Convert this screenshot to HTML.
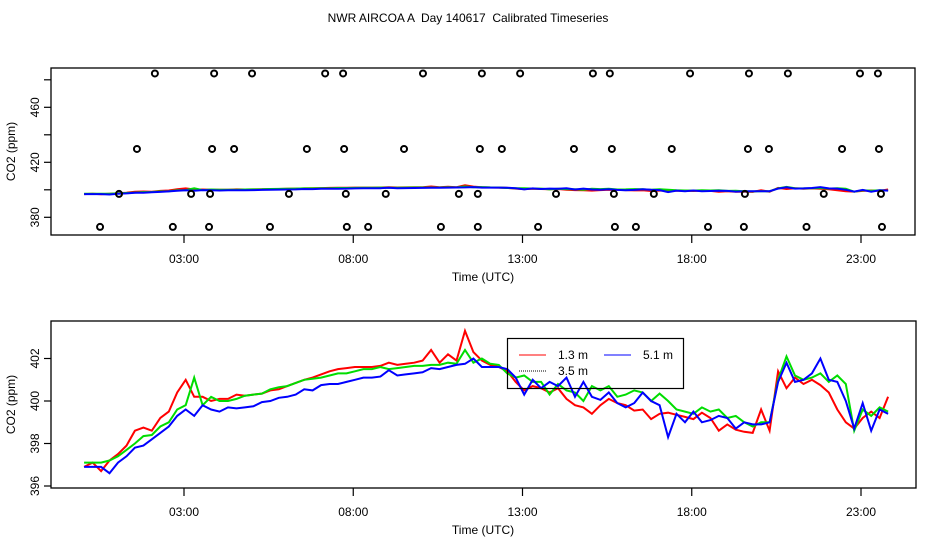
<!DOCTYPE html>
<html><head><meta charset="utf-8"><style>
html,body{margin:0;padding:0;background:#fff;}
svg{display:block;font-family:"Liberation Sans",Arial,sans-serif;}
.pre{white-space:pre;}
</style></head><body>
<svg id="chart" width="936" height="540" viewBox="0 0 936 540" xmlns="http://www.w3.org/2000/svg">
<text class="pre" x="468" y="22" text-anchor="middle" font-size="12">NWR AIRCOA A  Day 140617  Calibrated Timeseries</text>
<g id="topPanel"></g>
<g id="botPanel"></g>
</svg>
<script>
const xTickHours = [3, 8, 13, 18, 23];
const xTickLabels = ["03:00", "08:00", "13:00", "18:00", "23:00"];
const topYTicks = [380, 400, 420, 440, 460, 480];
const topYLabels = ["380", "", "420", "", "460", ""];
const botYTicks = [396, 398, 400, 402];
const botYLabels = ["396", "398", "400", "402"];
const startHour = 0.05;
const stepHour = 0.25;
const series13 = [396.9,397.1,396.7,397.2,397.5,397.9,398.6,398.75,398.6,399.2,399.5,400.4,401.0,400.2,400.2,400.0,400.1,400.1,400.3,400.25,400.3,400.35,400.5,400.55,400.7,400.85,401.0,401.1,401.25,401.4,401.5,401.55,401.6,401.6,401.6,401.65,401.8,401.7,401.75,401.8,401.9,402.4,401.8,402.2,401.9,403.3,402.3,401.9,401.7,401.6,401.4,400.9,400.5,400.7,400.6,400.4,400.6,400.1,399.8,399.7,399.4,399.8,400.1,399.9,399.8,399.55,399.6,399.15,399.4,399.45,399.35,399.25,399.15,399.45,399.2,398.6,398.9,398.65,398.55,398.5,399.6,398.6,401.4,400.6,401.1,400.8,401.0,400.75,400.4,399.6,399.0,398.7,399.2,399.5,399.2,400.2];
const series35 = [397.1,397.1,397.1,397.2,397.4,397.7,398.0,398.35,398.4,398.8,399.0,399.6,399.8,401.1,399.8,400.2,400.0,400.0,400.1,400.25,400.3,400.35,400.55,400.65,400.7,400.85,401.0,401.05,401.1,401.2,401.3,401.3,401.4,401.5,401.5,401.6,401.5,401.55,401.6,401.65,401.65,401.7,401.7,401.8,401.75,402.4,401.8,402.0,401.75,401.7,401.3,401.1,401.2,400.9,400.9,400.3,400.8,400.5,400.4,400.0,400.7,400.5,400.7,400.2,400.3,400.5,400.4,400.0,400.35,400.0,399.6,399.5,399.4,399.7,399.5,399.6,399.2,399.3,399.0,398.8,399.0,399.0,401.0,402.1,401.2,401.0,401.1,401.3,400.9,401.2,400.8,398.6,399.6,399.3,399.7,399.5];
const series51 = [396.9,396.9,396.9,396.6,397.1,397.4,397.8,397.9,398.2,398.5,398.8,399.3,399.6,399.3,399.8,399.6,399.5,399.7,399.65,399.7,399.75,399.95,400.0,400.15,400.2,400.3,400.55,400.5,400.75,400.8,400.8,400.9,401.0,401.1,401.1,401.15,401.45,401.2,401.25,401.3,401.35,401.55,401.5,401.6,401.7,401.75,402.0,401.6,401.6,401.6,401.5,401.1,400.3,401.0,400.6,400.9,400.7,401.1,400.2,400.9,400.2,400.05,400.4,399.9,399.7,399.9,400.4,400.0,399.8,398.3,399.4,399.0,399.5,399.0,399.1,399.3,399.2,398.7,399.0,398.9,398.9,399.0,400.9,401.8,400.9,401.0,401.3,402.0,401.0,400.9,400.0,398.7,399.9,398.6,399.6,399.4];
const flagHours = [2.14,3.89,5.01,7.17,7.70,10.06,11.80,12.93,15.08,15.58,17.95,19.69,20.84,22.97,23.50,
 1.61,3.83,4.48,6.63,7.73,9.50,11.74,12.39,14.52,15.64,17.41,19.66,20.28,22.44,23.53,
 1.08,3.21,3.77,6.10,7.78,8.96,11.12,11.68,13.99,15.70,16.88,19.57,21.90,23.59,
 0.52,2.67,3.74,5.54,7.81,8.44,10.59,11.68,13.46,15.73,16.35,18.48,19.54,21.39,23.62];
const flagValues = [484.6,484.6,484.6,484.6,484.6,484.6,484.6,484.6,484.6,484.6,484.6,484.6,484.6,484.6,484.6,
 429.7,429.7,429.7,429.7,429.7,429.7,429.7,429.7,429.7,429.7,429.7,429.7,429.7,429.7,429.7,
 397,397,397,397,397,397,397,397,397,397,397,397,397,397,
 373,373,373,373,373,373,373,373,373,373,373,373,373,373,373];

const NS = "http://www.w3.org/2000/svg";
function mk(parent, tag, attrs){const e=document.createElementNS(NS,tag);for(const k in attrs)e.setAttribute(k,attrs[k]);parent.appendChild(e);return e;}

function xScale(h){return 82.45 + h*33.85;}
function topY(v){return 162.3 - (v-420)*1.375;}
function botY(v){return 401 - (v-400)*21.25;}

function drawPanel(g, box, yfn, yTicks, yLabels, prefix){
  const r = mk(g,'rect',{x:box.x,y:box.y,width:box.w,height:box.h,fill:'none',stroke:'#000','stroke-width':1.3});
  
  
  const xa = mk(g,'g',{});
  
  
  xTickHours.forEach((h,i)=>{
    const x=xScale(h);
    mk(xa,'line',{x1:x,x2:x,y1:box.y+box.h,y2:box.y+box.h+8,stroke:'#000','stroke-width':1.2});
    const t=mk(xa,'text',{x:x,y:box.y+box.h+28,'text-anchor':'middle','font-size':12});
    
    
    t.textContent=xTickLabels[i];
  });
  const xt=mk(g,'text',{x:483,y:box.y+box.h+46,'text-anchor':'middle','font-size':12});
  
  
  xt.textContent='Time (UTC)';
  const ya = mk(g,'g',{});
  
  
  yTicks.forEach((v,i)=>{
    const y=yfn(v);
    mk(ya,'line',{x1:box.x-7,x2:box.x,y1:y,y2:y,stroke:'#000','stroke-width':1.2});
    if(yLabels[i]){
      const t=mk(ya,'text',{x:0,y:0,'text-anchor':'middle','font-size':12,transform:`translate(${box.x-12},${y}) rotate(-90)`});
      
      
      t.textContent=yLabels[i];
    }
  });
  const yt=mk(g,'text',{x:0,y:0,'text-anchor':'middle','font-size':12,transform:`translate(15,${box.y+box.h/2}) rotate(-90)`});
  
  
  yt.textContent='CO2 (ppm)';
}

function drawSeries(g, vals, yfn, color, name){
  const pts = vals.map((v,i)=>xScale(startHour+i*stepHour).toFixed(1)+','+yfn(v).toFixed(1)).join(' ');
  const p = mk(g,'polyline',{points:pts,fill:'none',stroke:color,'stroke-width':2,'stroke-linejoin':'miter'});
  
  
}

const topPanel = document.getElementById('topPanel');
const botPanel = document.getElementById('botPanel');
drawPanel(topPanel,{x:51,y:68,w:864,h:167},topY,topYTicks,topYLabels,'top');
drawPanel(botPanel,{x:51,y:321,w:865,h:167},botY,botYTicks,botYLabels,'bottom');

drawSeries(topPanel, series13, topY, '#ff0000', 'top-series-1-3m');
drawSeries(topPanel, series35, topY, '#00dd00', 'top-series-3-5m');
drawSeries(topPanel, series51, topY, '#0000ff', 'top-series-5-1m');
flagHours.forEach((h,i)=>{
  const c=mk(topPanel,'circle',{cx:xScale(h),cy:topY(flagValues[i]),r:3,fill:'none',stroke:'#000','stroke-width':2});
  
  
});

drawSeries(botPanel, series13, botY, '#ff0000', 'series-1-3m');
drawSeries(botPanel, series35, botY, '#00dd00', 'series-3-5m');
drawSeries(botPanel, series51, botY, '#0000ff', 'series-5-1m');

const lg = mk(botPanel,'g',{});


mk(lg,'rect',{x:507.5,y:338.5,width:176,height:50,fill:'none',stroke:'#000','stroke-width':1.2});
const entries=[{x:519,y:355,c:'#ff0000',d:'',t:'1.3 m',n:'legend-entry-1-3m'},{x:604,y:355,c:'#0000ff',d:'',t:'5.1 m',n:'legend-entry-5-1m'},{x:519,y:371,c:'#000',d:'1,1',t:'3.5 m',n:'legend-entry-3-5m'}];
entries.forEach(e=>{
  const eg=mk(lg,'g',{});
  
  
  const la={x1:e.x,x2:e.x+27,y1:e.y,y2:e.y,stroke:e.c,'stroke-width':1};
  if(e.d) la['stroke-dasharray']=e.d;
  mk(eg,'line',la);
  const t=mk(eg,'text',{x:e.x+39,y:e.y+4,'font-size':12});
  t.textContent=e.t;
});
</script>
</body></html>
